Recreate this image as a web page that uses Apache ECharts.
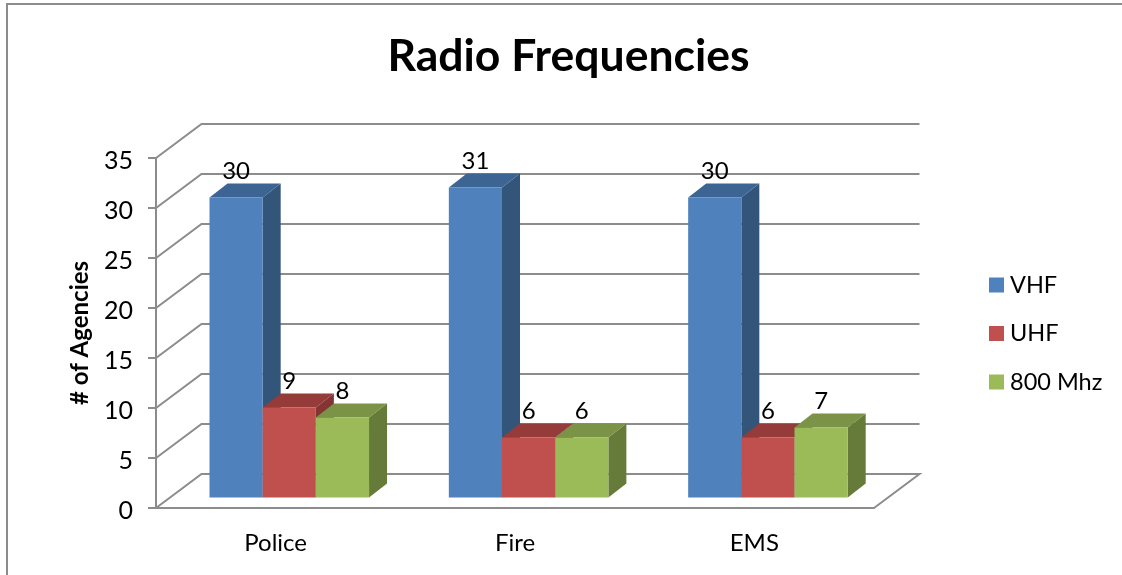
<!DOCTYPE html>
<html>
<head>
<meta charset="utf-8">
<title>Radio Frequencies</title>
<script src="https://cdn.jsdelivr.net/npm/echarts@6/dist/echarts.min.js"></script>
<style>
  html, body { margin: 0; padding: 0; background: #fff; }
  #chart { width: 1122px; height: 575px; }
</style>
</head>
<body>
<div id="chart"></div>
<script>
const categories = ['Police', 'Fire', 'EMS']
const seriesNames = ['VHF', 'UHF', '800 Mhz']
const vhfValues = [30, 31, 30]
const uhfValues = [9, 6, 6]
const mhz800Values = [8, 6, 7]
const yTicks = [0, 5, 10, 15, 20, 25, 30, 35]

const frontColors = ['#4f81bd', '#c0504d', '#9bbb59']
const topColors = ['#3d6594', '#953b39', '#7a9346']
const sideColors = ['#335579', '#843533', '#667a3a']

const fontName = 'Lato'
const lineColor = '#8c8c8c'

// 3d look: wall depth, bar depth, how far bars sit inside the floor
const wallDx = 45.5
const wallDy = -34
const barDx = 18
const barDy = -14
const insetDx = 13.6
const insetDy = -10.5
const barShare = 0.2222

const renderWall = (params, api) => {
  const box = params.coordSys
  const y = api.coord([0, api.value(1)])[1]
  const points = [
    [box.x, y],
    [box.x + wallDx, y + wallDy],
    [box.x + box.width + wallDx, y + wallDy]
  ]
  if (api.value(1) === 0) points.push([box.x + box.width, y])
  return {
    type: 'polyline',
    shape: { points },
    style: { stroke: lineColor, lineWidth: 2, fill: null },
    silent: true
  }
}

const makeBarRender = (index) => (params, api) => {
  const band = api.size([1, 0])[0]
  const bw = band * barShare
  const center = api.coord([api.value(0), 0])
  const top = api.coord([api.value(0), api.value(1)])[1] + insetDy
  const bottom = center[1] + insetDy
  const x0 = center[0] + insetDx + (index - 1.5) * bw
  const x1 = x0 + bw
  return {
    type: 'group',
    children: [
      {
        type: 'polygon',
        shape: { points: [[x1, top], [x1 + barDx, top + barDy], [x1 + barDx, bottom + barDy], [x1, bottom]] },
        style: { fill: sideColors[index] }
      },
      {
        type: 'polygon',
        shape: { points: [[x0, top], [x0 + barDx, top + barDy], [x1 + barDx, top + barDy], [x1, top]] },
        style: { fill: topColors[index] }
      },
      {
        type: 'rect',
        shape: { x: x0, y: top, width: bw, height: bottom - top },
        style: { fill: frontColors[index] }
      },
      {
        type: 'text',
        style: {
          x: (x0 + x1) / 2,
          y: top - 26,
          text: String(api.value(1)),
          fill: '#000',
          font: '24px ' + fontName,
          align: 'center',
          verticalAlign: 'middle'
        }
      }
    ]
  }
}

const makeBarSeries = (index, values) => ({
  type: 'custom',
  name: seriesNames[index],
  renderItem: makeBarRender(index),
  encode: { x: 0, y: 1 },
  data: values.map((v, i) => [categories[i], v]),
  itemStyle: { color: frontColors[index] },
  z: 3
})

const chart = echarts.init(document.getElementById('chart'), null, { renderer: 'canvas' })

const option = {
  animation: false,
  backgroundColor: '#fff',
  color: frontColors,
  textStyle: { fontFamily: fontName, color: '#000' },
  title: {
    text: 'Radio Frequencies',
    left: 563.5,
    top: 29,
    textAlign: 'center',
    textStyle: { fontFamily: fontName, fontSize: 44.5, fontWeight: 'bold', color: '#000' }
  },
  grid: { left: 156, right: 248, top: 158, bottom: 67 },
  xAxis: {
    type: 'category',
    data: categories,
    axisLine: { show: true, lineStyle: { color: lineColor, width: 2 } },
    axisTick: { show: false },
    axisLabel: { margin: 23, fontSize: 24, fontFamily: fontName, color: '#000' }
  },
  yAxis: {
    type: 'value',
    min: 0,
    max: 35,
    interval: 5,
    name: '# of Agencies',
    nameLocation: 'middle',
    nameRotate: 90,
    nameGap: 64,
    nameTextStyle: { fontSize: 24, fontWeight: 'bold', fontFamily: fontName, color: '#000' },
    axisLine: { show: true, lineStyle: { color: lineColor, width: 2 } },
    axisTick: { show: true, length: 8, lineStyle: { color: lineColor, width: 2 } },
    axisLabel: { margin: 23, fontSize: 25, fontFamily: fontName, color: '#000', verticalAlign: 'top', lineHeight: 5 },
    splitLine: { show: false }
  },
  legend: {
    orient: 'vertical',
    left: 989,
    top: 273,
    padding: 0,
    icon: 'rect',
    itemWidth: 15,
    itemHeight: 15,
    itemGap: 24.5,
    data: seriesNames,
    textStyle: { fontSize: 23.5, fontFamily: fontName, color: '#000', padding: [0, 0, 0, 1] }
  },
  graphic: [
    {
      type: 'polyline',
      shape: { points: [[7, 575], [7, 4], [1122, 4]] },
      style: { stroke: lineColor, lineWidth: 2, fill: null },
      silent: true
    }
  ],
  series: [
    {
      type: 'custom',
      renderItem: renderWall,
      encode: { x: 0, y: 1 },
      data: yTicks.map(v => [categories[0], v]),
      silent: true,
      z: 1
    },
    makeBarSeries(0, vhfValues),
    makeBarSeries(1, uhfValues),
    makeBarSeries(2, mhz800Values)
  ]
}

chart.setOption(option)
</script>
</body>
</html>
